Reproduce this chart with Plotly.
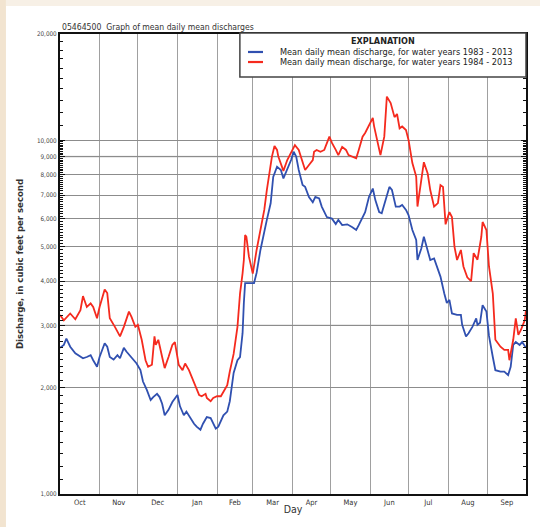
import plotly.graph_objects as go
import pandas as pd

# ---- data ----
blue_day = [0, 3, 5, 8, 12, 16, 18, 21, 24, 26, 29, 31, 35, 37, 39, 42, 45, 47, 50, 52, 56, 60, 63, 65, 68,
            71, 73, 76, 78, 80, 82, 85, 88, 92, 94, 97, 99, 102, 105, 107, 110, 112, 115, 118, 120, 122, 124,
            126, 128, 131, 133, 136, 139, 141, 143, 144, 145, 152, 154, 157, 160, 162, 165, 167, 170, 173, 175,
            178, 181, 183, 185, 187, 190, 192, 195, 198, 200, 203, 205, 209, 213, 216, 218, 221, 225, 229, 232,
            234, 237, 239, 242, 245, 247, 250, 252, 255, 258, 260, 263, 266, 268, 271, 273, 276, 279, 280, 283,
            285, 288, 290, 293, 296, 298, 301, 303, 305, 307, 311, 314, 315, 318, 320, 323, 326, 327, 329, 331,
            334, 336, 339, 341, 345, 348, 351, 353, 355, 357, 360, 362, 365]
blue_q = [2590, 2640, 2750, 2610, 2500, 2440, 2420, 2440, 2470, 2390, 2290, 2440, 2670, 2610, 2440, 2400, 2470,
          2420, 2590, 2530, 2440, 2340, 2240, 2080, 1970, 1845, 1880, 1920, 1880, 1800, 1670, 1730, 1820, 1905,
          1770, 1670, 1710, 1640, 1580, 1550, 1520, 1580, 1650, 1640, 1580, 1530, 1550, 1620, 1670, 1710, 1830,
          2200, 2390, 2440, 2850, 3470, 3950, 3950, 4220, 4900, 5580, 5960, 6640, 7880, 8430, 8250, 7810, 8250,
          8800, 9290, 9000, 8250, 7480, 7390, 6920, 6690, 6920, 6850, 6500, 6070, 6010, 5800, 5960, 5760, 5790,
          5680, 5580, 5760, 6070, 6270, 6920, 7310, 6780, 6270, 6220, 6780, 7390, 7240, 6500, 6500, 6570, 6360,
          6150, 5580, 5230, 4590, 4950, 5340, 4900, 4590, 4640, 4300, 4120, 3690, 3470, 3540, 3240, 3210, 3210,
          3010, 2790, 2850, 2970, 3140, 3010, 3050, 3420, 3280, 2800, 2440, 2240, 2220, 2220, 2170, 2290, 2640,
          2690, 2640, 2690, 2590]

red_day = [0, 3, 8, 12, 16, 18, 21, 24, 26, 29, 31, 35, 37, 39, 43, 47, 50, 54, 56, 59, 61, 64, 67, 69, 72,
           74, 75, 77, 80, 82, 85, 88, 90, 93, 96, 98, 101, 103, 106, 109, 111, 114, 115, 118, 120, 123, 126,
           128, 131, 133, 136, 139, 141, 143, 144, 145, 146, 148, 151, 154, 157, 160, 162, 164, 166, 168, 170,
           171, 175, 178, 181, 184, 187, 190, 192, 195, 198, 199, 201, 204, 207, 211, 213, 216, 218, 221, 224,
           226, 229, 232, 234, 237, 239, 242, 245, 246, 249, 251, 254, 256, 259, 262, 264, 266, 268, 271, 273,
           276, 279, 280, 283, 285, 288, 290, 293, 296, 298, 300, 302, 305, 307, 309, 311, 314, 316, 319, 322,
           324, 327, 330, 331, 334, 336, 339, 341, 345, 348, 351, 352, 355, 357, 359, 361, 364, 365]
red_q = [3210, 3100, 3240, 3120, 3310, 3630, 3380, 3460, 3380, 3140, 3380, 3790, 3700, 3140, 2970, 2790, 2970,
         3280, 3170, 2970, 3010, 2730, 2390, 2290, 2320, 2790, 2640, 2730, 2440, 2270, 2440, 2640, 2690, 2320,
         2240, 2340, 2240, 2150, 2010, 1905, 1890, 1920, 1870, 1830, 1870, 1890, 1890, 1950, 2030, 2220, 2490,
         2970, 3690, 4210, 4590, 5400, 5340, 4690, 4200, 4900, 5580, 6360, 7240, 8100, 9000, 9640, 9400, 9000,
         8200, 8800, 9200, 9700, 9400, 8600, 8250, 8520, 8800, 9290, 9400, 9290, 9400, 10250, 9840, 9400, 9090,
         9590, 9400, 9090, 9000, 8900, 9400, 10250, 10500, 11060, 11580, 10980, 9840, 9090, 10250, 13300, 12750,
         11640, 11880, 10820, 10950, 10700, 10030, 8630, 7900, 6500, 7730, 8680, 8060, 7240, 6500, 6650, 7480,
         7390, 5790, 6270, 6070, 5000, 4590, 4900, 4400, 4100, 4000, 4800, 4600, 5340, 5880, 5580, 4400, 3690,
         2730, 2610, 2555, 2555, 2390, 2730, 3140, 2820, 2910, 3100, 3310]

y_tick_vals = [1000, 2000, 3000, 4000, 5000, 6000, 7000, 8000, 9000, 10000, 20000]
y_tick_text = ["1,000", "2,000", "3,000", "4,000", "5,000", "6,000", "7,000", "8,000", "9,000", "10,000", "20,000"]
light_grid_vals = [3000, 9000]

blue_name = "Mean daily mean discharge, for water years 1983 - 2013"
red_name = "Mean daily mean discharge, for water years 1984 - 2013"
BLUE = "#3050B0"
RED = "#F52A1E"

start = pd.Timestamp("2012-10-01")
blue_x = [start + pd.Timedelta(days=d) for d in blue_day]
red_x = [start + pd.Timedelta(days=d) for d in red_day]

minor_vals = [v for v in range(1100, 10000, 100) if v % 1000 != 0] + \
             [v for v in range(11000, 20000, 1000)]

NARROW = "Liberation Sans Narrow, Arial Narrow, DejaVu Sans Condensed, Liberation Sans, sans-serif"

fig = go.Figure()
fig.add_trace(go.Scatter(x=blue_x, y=blue_q, mode="lines", name=blue_name,
                         line=dict(color=BLUE, width=1.8)))
fig.add_trace(go.Scatter(x=red_x, y=red_q, mode="lines", name=red_name,
                         line=dict(color=RED, width=1.8)))

# beige page border strips (left and top)
shapes = [
    dict(type="rect", xref="paper", yref="paper", x0=-0.2, x1=-0.116, y0=-0.2, y1=1.2,
         fillcolor="#F2E4D0", line=dict(width=0), layer="below"),
    dict(type="rect", xref="paper", yref="paper", x0=-0.116, x1=1.2, y0=1.061, y1=1.2,
         fillcolor="#F7F0E6", line=dict(width=0), layer="below"),
]
# lighter grid lines
for v in light_grid_vals:
    shapes.append(dict(type="line", xref="paper", yref="y", x0=0, x1=1, y0=v, y1=v,
                       line=dict(color="#D4D4D4", width=1.6), layer="between"))

# explanation (legend) box
LX0, LX1, LY0, LY1 = 0.386, 1.0, 0.9065, 1.002
shapes.append(dict(type="rect", xref="paper", yref="paper", x0=LX0, x1=LX1, y0=LY0, y1=LY1,
                   fillcolor="white", line=dict(color="#444", width=1.5), layer="above"))
legend_rows = [(blue_name, BLUE, 0.9609), (red_name, RED, 0.9391)]
annotations = [
    dict(text="05464500  Graph of mean daily mean discharges", xref="paper", yref="paper",
         x=0.0, y=1.0, xanchor="left", yanchor="bottom", showarrow=False,
         font=dict(size=8.6, family=NARROW, color="#333")),
    dict(text="<b>EXPLANATION</b>", xref="paper", yref="paper", x=0.693, y=0.9848,
         xanchor="center", yanchor="middle", showarrow=False,
         font=dict(size=9, family=NARROW, color="#222")),
]
for name, col, yy in legend_rows:
    shapes.append(dict(type="line", xref="paper", yref="paper", x0=0.4034, x1=0.4356, y0=yy, y1=yy,
                       line=dict(color=col, width=2.2), layer="above"))
    annotations.append(dict(text=name, xref="paper", yref="paper", x=0.468, y=yy,
                            xanchor="left", yanchor="middle", showarrow=False,
                            font=dict(size=9.1, family=NARROW, color="#222")))

fig.update_layout(
    width=540, height=527,
    margin=dict(l=60, r=14, t=34, b=33, autoexpand=False),
    paper_bgcolor="white",
    plot_bgcolor="white",
    shapes=shapes,
    annotations=annotations,
    font=dict(family=NARROW, color="#222"),
    showlegend=False,
)

fig.update_xaxes(
    type="date", range=["2012-10-01", "2013-10-01"], automargin=False,
    dtick="M1", tick0="2012-10-01", tickformat="%b", ticklabelmode="period",
    showgrid=True, gridcolor="#A0A0A0", gridwidth=1.3,
    ticks="", showline=True, linecolor="#111", linewidth=2, mirror=True,
    tickfont=dict(size=7.5, color="#333"),
    title=dict(text="Day", font=dict(size=10.5, color="#333"), standoff=0),
)
fig.update_yaxes(
    type="log", range=[3, 4.30103], automargin=False,
    tickmode="array", tickvals=y_tick_vals, ticktext=y_tick_text,
    showgrid=True, gridcolor="#8C8C8C", gridwidth=1.3,
    ticks="inside", ticklen=5, tickcolor="#111", tickwidth=1.2,
    showline=True, linecolor="#111", linewidth=2, mirror="allticks",
    minor=dict(tickmode="array", tickvals=minor_vals, ticks="inside", ticklen=3,
               tickcolor="#111", tickwidth=1, showgrid=False),
    tickfont=dict(size=6.3, color="#444"),
    title=dict(text="<b>Discharge, in cubic feet per second</b>", font=dict(size=9.5, color="#333"), standoff=12),
)

fig.write_html("out.html", config={"displayModeBar": False},
               post_script="document.body.style.margin='0';")
